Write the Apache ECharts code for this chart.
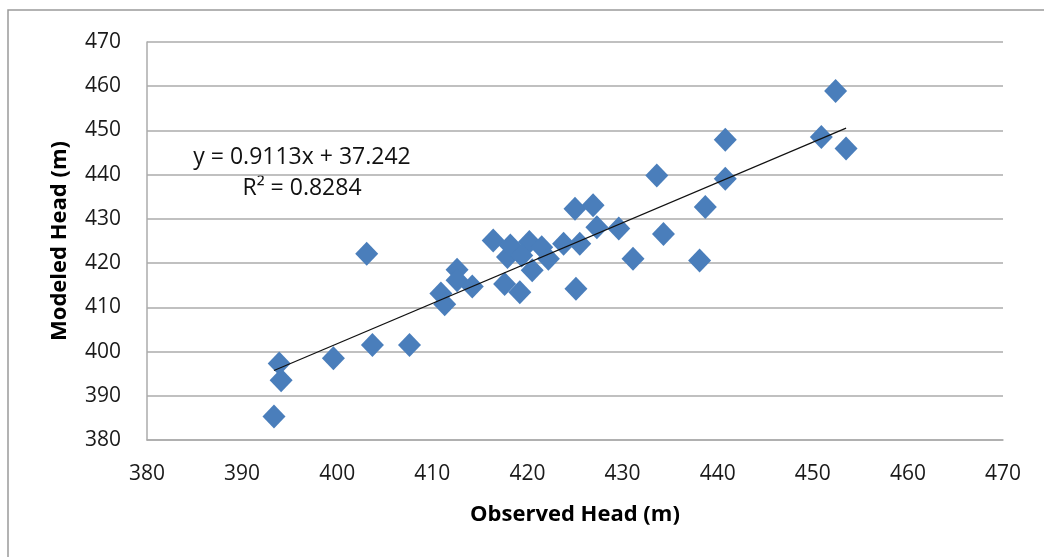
<!DOCTYPE html>
<html>
<head>
<meta charset="utf-8">
<title>Observed vs Modeled Head</title>
<script src="https://cdn.jsdelivr.net/npm/echarts@6/dist/echarts.min.js"></script>
<style>
  html, body { margin: 0; padding: 0; background: #fff; }
  #chart { width: 1044px; height: 557px; }
</style>
</head>
<body>
<div id="chart"></div>
<script>
// observed head (m)
const observed = [
  393.35, 393.9, 394.1, 399.6, 403.1, 403.7, 407.6, 410.9, 411.3, 412.6,
  412.6, 414.2, 416.4, 417.6, 419.2, 417.9, 418.2, 420.2, 419.4, 420.5,
  421.5, 422.2, 423.8, 425.5, 425.0, 426.9, 427.3, 429.6, 425.1, 431.1,
  434.3, 433.6, 438.7, 438.1, 440.8, 440.8, 452.4, 450.9, 453.5
];

// modeled head (m), same order
const modeled = [
  385.3, 397.3, 393.5, 398.5, 422.1, 401.5, 401.5, 413.1, 410.7, 418.5,
  416.1, 414.7, 425.1, 415.3, 413.4, 421.4, 424.0, 424.8, 421.7, 418.4,
  423.6, 421.0, 424.4, 424.4, 432.3, 433.1, 428.1, 427.8, 414.2, 421.0,
  426.6, 439.8, 432.7, 420.6, 447.9, 439.1, 458.9, 448.5, 445.9
];

// linear trendline as printed on the chart
const slope = 0.9113;
const intercept = 37.242;
const rSquared = 0.8284;

const axisTicks = [380, 390, 400, 410, 420, 430, 440, 450, 460, 470];

const points = observed.map((x, i) => [x, modeled[i]]);
const xMin = Math.min(...observed);
const xMax = Math.max(...observed);
const trend = [
  [xMin, slope * xMin + intercept],
  [xMax, slope * xMax + intercept]
];

const font = "'Open Sans', 'DejaVu Sans', sans-serif";
const gridGray = "#ababab";

const chart = echarts.init(document.getElementById("chart"));

chart.setOption({
  animation: false,
  backgroundColor: "#fff",
  textStyle: { fontFamily: font },
  grid: {
    left: 147,
    right: 41,
    top: 42,
    bottom: 117
  },
  xAxis: {
    type: "value",
    min: axisTicks[0],
    max: axisTicks[axisTicks.length - 1],
    interval: 10,
    name: "Observed Head (m)",
    nameLocation: "middle",
    nameGap: 64,
    nameTextStyle: { fontFamily: font, fontSize: 22, fontWeight: "bold", color: "#000" },
    axisLine: { show: true, lineStyle: { color: gridGray, width: 1.5 } },
    axisTick: { show: false },
    splitLine: { show: false },
    axisLabel: { fontFamily: font, fontSize: 21, color: "#1a1a1a", margin: 24 }
  },
  yAxis: {
    type: "value",
    min: axisTicks[0],
    max: axisTicks[axisTicks.length - 1],
    interval: 10,
    name: "Modeled Head (m)",
    nameLocation: "middle",
    nameGap: 76,
    nameTextStyle: { fontFamily: font, fontSize: 22, fontWeight: "bold", color: "#000" },
    axisLine: { show: true, lineStyle: { color: gridGray, width: 1.5 } },
    axisTick: { show: false },
    splitLine: { show: true, lineStyle: { color: gridGray, width: 1.5 } },
    axisLabel: { fontFamily: font, fontSize: 21, color: "#1a1a1a", margin: 26 }
  },
  graphic: [
    {
      type: "rect",
      shape: { x: 8, y: 10, width: 1100, height: 600 },
      style: { fill: "none", stroke: "#9a9a9a", lineWidth: 1.5 },
      silent: true
    },
    {
      type: "text",
      x: 302,
      y: 157,
      style: {
        text: "y = " + slope + "x + " + intercept,
        font: "23px " + font,
        fill: "#111",
        textAlign: "center",
        textVerticalAlign: "middle"
      }
    },
    {
      type: "text",
      x: 302,
      y: 188,
      style: {
        text: "R² = " + rSquared,
        font: "23px " + font,
        fill: "#111",
        textAlign: "center",
        textVerticalAlign: "middle"
      }
    }
  ],
  series: [
    {
      name: "Heads",
      type: "scatter",
      symbol: "diamond",
      symbolSize: [23, 24],
      itemStyle: { color: "#4a7ebb", opacity: 1 },
      data: points,
      z: 2
    },
    {
      name: "Linear",
      type: "line",
      symbol: "none",
      lineStyle: { color: "#111", width: 1.2 },
      data: trend,
      z: 3
    }
  ]
});
</script>
</body>
</html>
